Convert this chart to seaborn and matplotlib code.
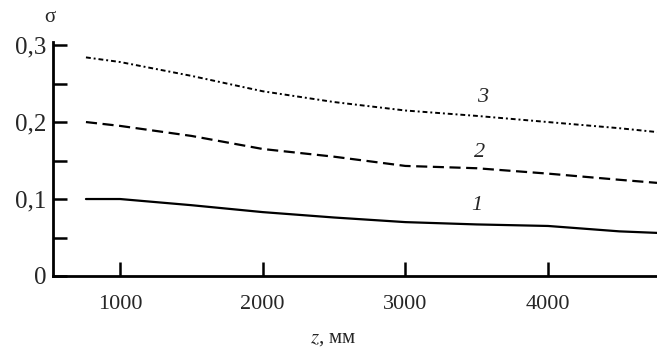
import matplotlib
matplotlib.use("Agg")
import matplotlib.pyplot as plt
import seaborn as sns
import pandas as pd
import numpy as np

z = [761, 1000, 1500, 2000, 2500, 3000, 3500, 4000, 4500, 4764]
curve1 = [0.100, 0.100, 0.092, 0.083, 0.076, 0.070, 0.067, 0.065, 0.058, 0.056]
curve2 = [0.200, 0.195, 0.182, 0.165, 0.155, 0.143, 0.140, 0.133, 0.125, 0.121]
curve3 = [0.284, 0.278, 0.260, 0.240, 0.226, 0.215, 0.208, 0.200, 0.192, 0.187]
curve_labels = ["1", "2", "3"]
x_ticks = [1000, 2000, 3000, 4000]
y_ticks = [0, 0.1, 0.2, 0.3]
y_tick_labels = ["0", "0,1", "0,2", "0,3"]
y_minor = [0.05, 0.15, 0.25]

sns.set_style("white")
plt.rcParams['font.family'] = ['Liberation Serif', 'DejaVu Serif']
plt.rcParams['mathtext.fontset'] = 'stix'

fig = plt.figure(figsize=(6.57, 3.52), dpi=100)
ax = fig.add_axes([53/657, 1-276/352, 1-53/657, (276-42)/352])

df = pd.DataFrame({"z": z * 3,
                   "s": curve1 + curve2 + curve3,
                   "c": [curve_labels[0]]*len(z) + [curve_labels[1]]*len(z) + [curve_labels[2]]*len(z)})
sns.lineplot(data=df[df.c == "1"], x="z", y="s", ax=ax, color="black", lw=1.6, linestyle="-")
sns.lineplot(data=df[df.c == "2"], x="z", y="s", ax=ax, color="black", lw=1.6, linestyle=(0, (5, 2.5)))
sns.lineplot(data=df[df.c == "3"], x="z", y="s", ax=ax, color="black", lw=1.4, linestyle=(0, (2.5, 1.5, 1, 1.5)))

ax.set_xlim(530, 4764)
ax.set_ylim(0, 0.304)
ax.set_xticks(x_ticks)
ax.set_xticklabels([str(t) for t in x_ticks], fontsize=16)
ax.set_yticks(y_ticks)
ax.set_yticklabels(y_tick_labels, fontsize=18)
ax.set_yticks(y_minor, minor=True)
ax.tick_params(axis="both", which="both", direction="in", width=1.8, color="black",
               left=True, bottom=True)
ax.tick_params(axis="y", which="both", length=10, pad=5)
ax.tick_params(axis="x", which="major", length=10, pad=14)
ax.tick_params(axis="x", which="minor", bottom=False)
for s in ["top", "right"]:
    ax.spines[s].set_visible(False)
for s in ["left", "bottom"]:
    ax.spines[s].set_linewidth(2)
    ax.spines[s].set_color("black")
ax.set_xlabel("")
ax.set_ylabel("")

# curve labels
lab_pos = {"3": (3540, 0.232), "2": (3520, 0.160), "1": (3500, 0.091)}
for c in curve_labels:
    ax.text(lab_pos[c][0], lab_pos[c][1], c, fontsize=16, style="italic", ha="center", va="center")

fig.text(50/657, 1-18/352, "σ", fontsize=15, ha="center", va="center")
fig.text(333/657, 1-338/352, r"$z$, мм", fontsize=15, ha="center", va="center")

fig.savefig("out.png", dpi=100)
